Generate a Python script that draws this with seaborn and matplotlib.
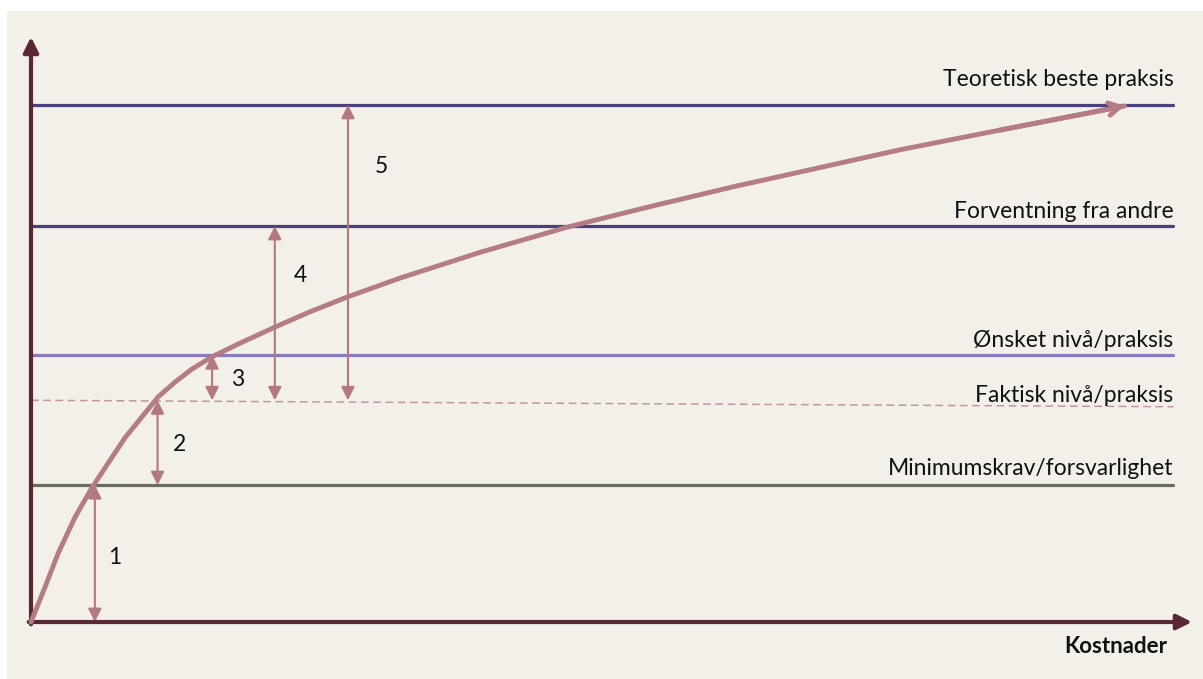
import matplotlib
matplotlib.use("Agg")
import matplotlib.pyplot as plt
import seaborn as sns
from matplotlib.patches import Rectangle

# --- data (units: Kostnader 0-100 along x, nivå 0-100 along y) ---
curve_x = [0, 1.21, 2.35, 3.79, 5.23, 6.66, 8.10, 9.53, 10.96, 12.40, 13.84, 15.56,
           17.83, 21.0, 24.0, 27.3, 31.8, 38.7, 46.2, 53.3, 60.5, 68.0, 74.8, 83.5, 94.2]
curve_y = [0, 5.98, 11.8, 17.9, 22.9, 27.2, 31.5, 35.0, 38.5, 41.0, 43.2, 45.3,
           47.5, 50.4, 53.0, 55.6, 58.8, 63.2, 67.5, 71.0, 74.4, 77.7, 80.7, 84.1, 88.2]

level_names = ["Teoretisk beste praksis", "Forventning fra andre", "Ønsket nivå/praksis",
               "Faktisk nivå/praksis", "Minimumskrav/forsvarlighet"]
level_start = [88.4, 67.7, 45.6, 37.9, 23.4]
level_end = [88.4, 67.7, 45.6, 36.8, 23.4]
level_label_y = [91.6, 69.1, 47.0, 37.6, 25.1]

gap_labels = ["1", "2", "3", "4", "5"]
gap_x = [5.5, 10.9, 15.6, 21.0, 27.3]
gap_low = [0, 23.4, 37.9, 37.9, 37.9]
gap_high = [23.4, 37.9, 45.6, 67.7, 88.4]
gap_label_x = [7.2, 12.8, 17.8, 23.2, 30.2]
gap_label_y = [11.1, 30.3, 41.4, 59.3, 77.8]

# --- style ---
sns.set_style("white")
plt.rcParams["font.family"] = ["Lato", "DejaVu Sans"]

panel_bg = "#F3F0EA"
axis_col = "#5A2833"
curve_col = "#B47C85"
arrow_col = "#B3797F"
level_cols = ["#4B3F7E", "#4B3F7E", "#8878BC", "#C4959B", "#6B6C61"]
level_styles = ["-", "-", "-", (0, (5, 3)), "-"]
level_widths = [2.3, 2.3, 2.3, 1.1, 2.3]

fig = plt.figure(figsize=(12.03, 6.79), dpi=100, facecolor="white")
fig.patches.append(Rectangle((7 / 1203, 0), 1196 / 1203, 668 / 679,
                             transform=fig.transFigure, facecolor=panel_bg,
                             edgecolor="none", zorder=-1))
ax = fig.add_axes([0, 0, 1, 1])
ax.set_facecolor("none")
ax.set_xlim(-2.67, 100.95)
ax.set_ylim(-9.74, 106.32)
ax.axis("off")

# levels
for name, y0, y1, ly, c, ls, lw in zip(level_names, level_start, level_end, level_label_y,
                                        level_cols, level_styles, level_widths):
    ax.plot([0, 98.4], [y0, y1], color=c, linestyle=ls, linewidth=lw, zorder=2)
    ax.text(98.4, ly, name, ha="right", va="baseline", fontsize=16.5, color="#111111")

# axes with arrowheads
ax.annotate("", xy=(0, 100), xytext=(0, -0.4),
            arrowprops=dict(arrowstyle="-|>,head_length=0.9,head_width=0.45",
                            color=axis_col, lw=3, shrinkA=0, shrinkB=0), zorder=4)
ax.annotate("", xy=(100, 0), xytext=(-0.2, 0),
            arrowprops=dict(arrowstyle="-|>,head_length=0.9,head_width=0.45",
                            color=axis_col, lw=3, shrinkA=0, shrinkB=0), zorder=4)
ax.text(97.85, -5.3, "Kostnader", ha="right", va="baseline", fontsize=16,
        fontweight="bold", color="#111111")

# gap arrows
for lab, x, lo, hi, tx, ty in zip(gap_labels, gap_x, gap_low, gap_high, gap_label_x, gap_label_y):
    ax.annotate("", xy=(x, hi), xytext=(x, lo),
                arrowprops=dict(arrowstyle="<|-|>,head_length=0.8,head_width=0.4",
                                color=arrow_col, lw=1.5, shrinkA=0, shrinkB=0), zorder=3)
    ax.text(tx, ty, lab, ha="center", va="center", fontsize=16.5, color="#111111")

# development curve
sns.lineplot(x=curve_x, y=curve_y, ax=ax, color=curve_col, linewidth=3.5, sort=False,
             estimator=None, zorder=5)
ax.lines[-1].set_solid_joinstyle("round")
ax.annotate("", xy=(curve_x[-1], curve_y[-1]), xytext=(curve_x[-2], curve_y[-2]),
            arrowprops=dict(arrowstyle="->,head_length=0.8,head_width=0.45",
                            color=curve_col, lw=3.5, shrinkA=0, shrinkB=0), zorder=5)

fig.savefig("out.png", dpi=100, facecolor="white")
